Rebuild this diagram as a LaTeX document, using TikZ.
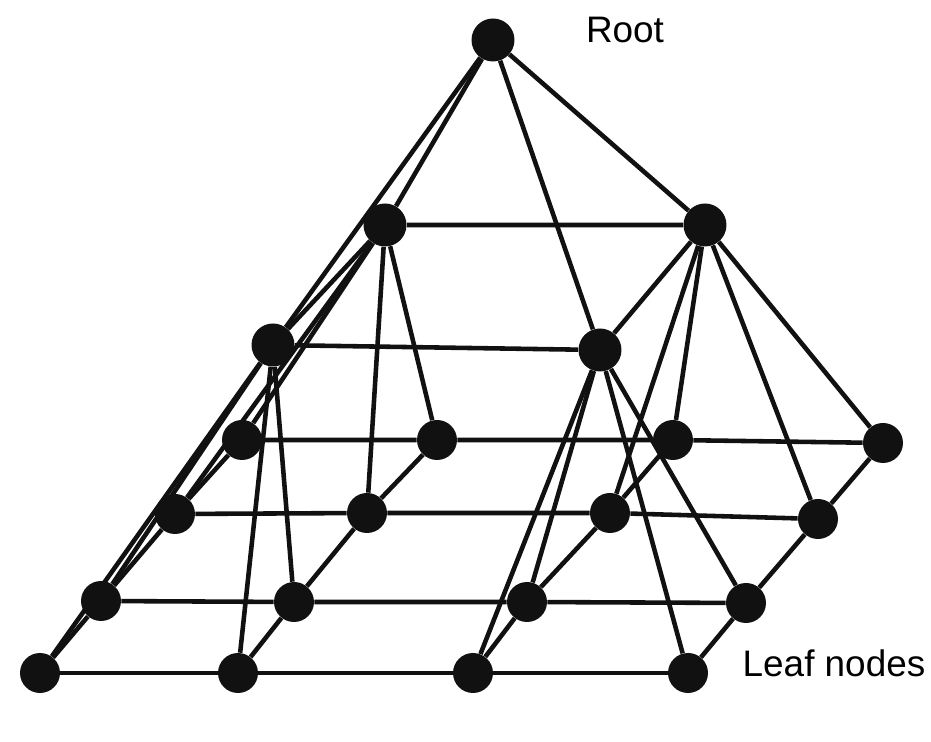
\documentclass[tikz,border=0pt]{standalone}
\usepackage{fontspec}
\setmainfont{Liberation Sans}
\usepackage{tikz}
\definecolor{Ink}{HTML}{111111}

\begin{document}
\begin{tikzpicture}[x=0.02cm,y=-0.02cm,
  leaf/.style={circle,fill=Ink,inner sep=0pt,minimum size=0.8cm},
  inner/.style={circle,fill=Ink,inner sep=0pt,minimum size=0.86cm},
  edge/.style={draw=Ink,line width=2.6pt},
  every node/.style={font=\fontsize{21}{24}\selectfont}]
      \useasboundingbox (0,0) rectangle (931,742);

      % leaves, row 1 is the front row
      \node[leaf] (l11) at (40,673) {};
      \node[leaf] (l12) at (238,673) {};
      \node[leaf] (l13) at (473,673) {};
      \node[leaf] (l14) at (688,673) {};
      \node[leaf] (l21) at (101,601) {};
      \node[leaf] (l22) at (294,602) {};
      \node[leaf] (l23) at (527,602) {};
      \node[leaf] (l24) at (746,603) {};
      \node[leaf] (l31) at (175,514) {};
      \node[leaf] (l32) at (367,513) {};
      \node[leaf] (l33) at (610,513) {};
      \node[leaf] (l34) at (818,519) {};
      \node[leaf] (l41) at (242,440) {};
      \node[leaf] (l42) at (437,440) {};
      \node[leaf] (l43) at (673,440) {};
      \node[leaf] (l44) at (883,443) {};

      % middle level and root
      \node[inner] (mfl) at (273,345) {};
      \node[inner] (mfr) at (600,350) {};
      \node[inner] (mbl) at (385,225) {};
      \node[inner] (mbr) at (705,225) {};
      \node[inner] (root) at (493,40) {};

      \node (rootlbl) at (625,30) {Root};
      \node (leaflbl) at (834,663) {Leaf nodes};

      % leaf grid
      \draw[edge] (l11) -- (l12) -- (l13) -- (l14);
      \draw[edge] (l21) -- (l22) -- (l23) -- (l24);
      \draw[edge] (l31) -- (l32) -- (l33) -- (l34);
      \draw[edge] (l41) -- (l42) -- (l43) -- (l44);
      \draw[edge] (l11) -- (l21) -- (l31) -- (l41);
      \draw[edge] (l12) -- (l22) -- (l32) -- (l42);
      \draw[edge] (l13) -- (l23) -- (l33) -- (l43);
      \draw[edge] (l14) -- (l24) -- (l34) -- (l44);

      % middle grid
      \draw[edge] (mfl) -- (mfr) -- (mbr) -- (mbl) -- (mfl);

      % root to middle
      \draw[edge] (root) -- (mfl);
      \draw[edge] (root) -- (mfr);
      \draw[edge] (root) -- (mbl);
      \draw[edge] (root) -- (mbr);

      % middle to leaves
      \draw[edge] (mfl) -- (l11); \draw[edge] (mfl) -- (l12);
      \draw[edge] (mfl) -- (l21); \draw[edge] (mfl) -- (l22);
      \draw[edge] (mfr) -- (l13); \draw[edge] (mfr) -- (l14);
      \draw[edge] (mfr) -- (l23); \draw[edge] (mfr) -- (l24);
      \draw[edge] (mbl) -- (l31); \draw[edge] (mbl) -- (l32);
      \draw[edge] (mbl) -- (l41); \draw[edge] (mbl) -- (l42);
      \draw[edge] (mbr) -- (l33); \draw[edge] (mbr) -- (l34);
      \draw[edge] (mbr) -- (l43); \draw[edge] (mbr) -- (l44);
    \end{tikzpicture}
\end{document}
